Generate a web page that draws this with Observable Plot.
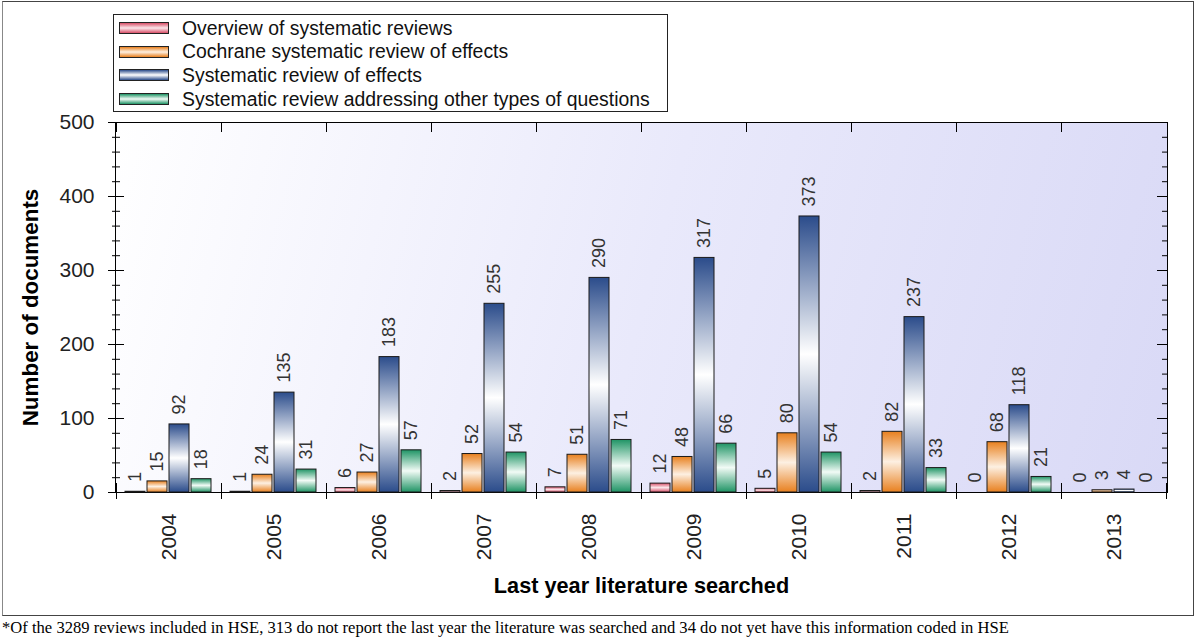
<!DOCTYPE html>
<html>
<head>
<meta charset="utf-8">
<script src="https://cdn.jsdelivr.net/npm/d3@7"></script>
<script src="https://cdn.jsdelivr.net/npm/@observablehq/plot@0.6"></script>
<style>
  html, body { margin: 0; padding: 0; background: white; }
  #wrap { position: relative; width: 1200px; height: 639px; overflow: hidden; font-family: "Liberation Sans", Arial, sans-serif; }
  #outer { position: absolute; left: 2px; top: 1px; width: 1192px; height: 615px; box-sizing: border-box; border: 1.5px solid #444; border-left-color: #888; }
  #bg { position: absolute; box-sizing: border-box; border: 1px solid #000; background: linear-gradient(105deg, #ffffff 0%, #e9e9fb 50%, #d9d9f6 100%); }
  #chart { position: absolute; left: 0; top: 0; }
  #legend { position: absolute; left: 113px; top: 14px; width: 555px; height: 98px; box-sizing: border-box; border: 1px solid #222; background: white; }
  .row { position: absolute; left: 5px; height: 22px; display: flex; align-items: center; font-size: 19.4px; color: #111; white-space: nowrap; }
  .sw { width: 48px; height: 10px; border: 1px solid #222; margin-right: 13px; }
  #caption { position: absolute; left: 2px; top: 618px; font-family: "Liberation Serif", "Times New Roman", serif; font-size: 16.6px; color: #000; white-space: nowrap; }
</style>
</head>
<body>
<div id="wrap">
  <div id="outer"></div>
  <div id="bg"></div>
  <svg width="0" height="0" style="position:absolute">
    <defs id="defs"></defs>
  </svg>
  <div id="chart"></div>
  <div id="legend"></div>
  <div id="caption">*Of the 3289 reviews included in HSE, 313 do not report the last year the literature was searched and 34 do not yet have this information coded in HSE</div>
</div>
<script>
// ---- data ----
const years = ["2004","2005","2006","2007","2008","2009","2010","2011","2012","2013"];
const series = [
  "Overview of systematic reviews",
  "Cochrane systematic review of effects",
  "Systematic review of effects",
  "Systematic review addressing other types of questions"
];
const overview   = [1, 1, 6, 2, 7, 12, 5, 2, 0, 0];
const cochrane   = [15, 24, 27, 52, 51, 48, 80, 82, 68, 3];
const srEffects  = [92, 135, 183, 255, 290, 317, 373, 237, 118, 4];
const srOther    = [18, 31, 57, 54, 71, 66, 54, 33, 21, 0];
const yMajor = [0, 100, 200, 300, 400, 500];
const yMinor = d3.range(0, 501, 20).filter(v => v % 100 !== 0);
const edgeColors = ["#d84f68", "#e8801f", "#2b4c8b", "#1f9465"];
const midColors  = ["#fbe6ea", "#fdf0e2", "#ffffff", "#f2fbf6"];

// ---- table ----
const valuesBySeries = [overview, cochrane, srEffects, srOther];
const table = [];
years.forEach((yr, i) => series.forEach((s, j) => table.push({year: yr, series: s, value: valuesBySeries[j][i]})));

// ---- gradients ----
const defs = document.getElementById("defs");
const ns = "http://www.w3.org/2000/svg";
series.forEach((s, j) => {
  const g = document.createElementNS(ns, "linearGradient");
  g.setAttribute("id", "grad" + j);
  g.setAttribute("x1", "0"); g.setAttribute("y1", "0");
  g.setAttribute("x2", "0"); g.setAttribute("y2", "1");
  [[0, edgeColors[j]], [0.5, midColors[j]], [1, edgeColors[j]]].forEach(([o, c]) => {
    const st = document.createElementNS(ns, "stop");
    st.setAttribute("offset", o); st.setAttribute("stop-color", c);
    g.appendChild(st);
  });
  defs.appendChild(g);
});
const fills = series.map((s, j) => `url(#grad${j})`);

// ---- layout ----
const W = 1200, H = 612, mL = 115, mR = 33, mT = 122, mB = 120;
const bg = document.getElementById("bg");
bg.style.left = (mL - 0.5) + "px";
bg.style.top = (mT - 0.5) + "px";
bg.style.width = (W - mL - mR + 1) + "px";
bg.style.height = (H - mT - mB + 1) + "px";

const chart = Plot.plot({
  width: W, height: H,
  marginLeft: mL, marginRight: mR, marginTop: mT, marginBottom: mB,
  style: {background: "transparent", fontFamily: "'Liberation Sans', Arial, sans-serif", overflow: "visible"},
  fx: {domain: years, padding: 0, label: null},
  x: {domain: series, paddingInner: 0.08, paddingOuter: 0.4, axis: null},
  y: {domain: [0, 500]},
  color: {domain: series, range: fills},
  marks: [
    // group boundary ticks
    Plot.frame({anchor: "left", insetTop: 361, insetBottom: -6, stroke: "#000"}),
    Plot.frame({anchor: "right", insetTop: 361, insetBottom: -6, stroke: "#000"}),
    Plot.frame({anchor: "left", insetBottom: 361, stroke: "#000"}),
    // bars
    Plot.barY(table, {fx: "year", x: "series", y: "value", fill: "series", stroke: "#1a1a1a", strokeWidth: 1}),
    // value labels
    Plot.text(table, {fx: "year", x: "series", y: "value", text: d => String(d.value),
      rotate: -90, textAnchor: "start", dy: -10, fontSize: 18, fill: "#333"}),
    // left y axis: crossing ticks
    Plot.axisY({ticks: yMajor, tickSize: 16, dx: 8, fill: "none", label: null, stroke: "#000"}),
    Plot.axisY({ticks: yMinor, tickSize: 8, dx: 4, fill: "none", label: null, stroke: "#000"}),
    Plot.axisY({ticks: yMajor, tickSize: 0, tickPadding: 22, fontSize: 21, fill: "#222", label: null}),
    Plot.axisY({ticks: yMajor, tickSize: 0, tickFormat: () => "", label: "Number of documents", labelArrow: "none",
      labelAnchor: "center", labelOffset: 94, fontSize: 22.4, fontWeight: "bold", fill: "#000"}),
    // right y axis: inward ticks
    Plot.axisY({anchor: "right", ticks: yMajor, tickSize: 10, dx: -10, fill: "none", label: null, stroke: "#000"}),
    Plot.axisY({anchor: "right", ticks: yMinor, tickSize: 5, dx: -5, fill: "none", label: null, stroke: "#000"}),
    // x (year) axis
    Plot.axisFx({anchor: "bottom", tickRotate: -90, tickSize: 0, tickPadding: 21, fontSize: 21, fill: "#222", label: null}),
    Plot.axisFx({anchor: "bottom", tickSize: 0, tickFormat: () => "", label: "Last year literature searched", labelArrow: "none",
      labelAnchor: "center", labelOffset: 100, fontSize: 21.7, fontWeight: "bold", fill: "#000"})
  ]
});
document.getElementById("chart").appendChild(chart);

// ---- legend ----
const legend = document.getElementById("legend");
series.forEach((s, j) => {
  const row = document.createElement("div");
  row.className = "row";
  row.style.top = (2 + j * 23.7) + "px";
  const sw = document.createElement("div");
  sw.className = "sw";
  sw.style.background = `linear-gradient(to bottom, ${edgeColors[j]}, ${midColors[j]}, ${edgeColors[j]})`;
  const lab = document.createElement("span");
  lab.textContent = s;
  row.appendChild(sw); row.appendChild(lab);
  legend.appendChild(row);
});
</script>
</body>
</html>
